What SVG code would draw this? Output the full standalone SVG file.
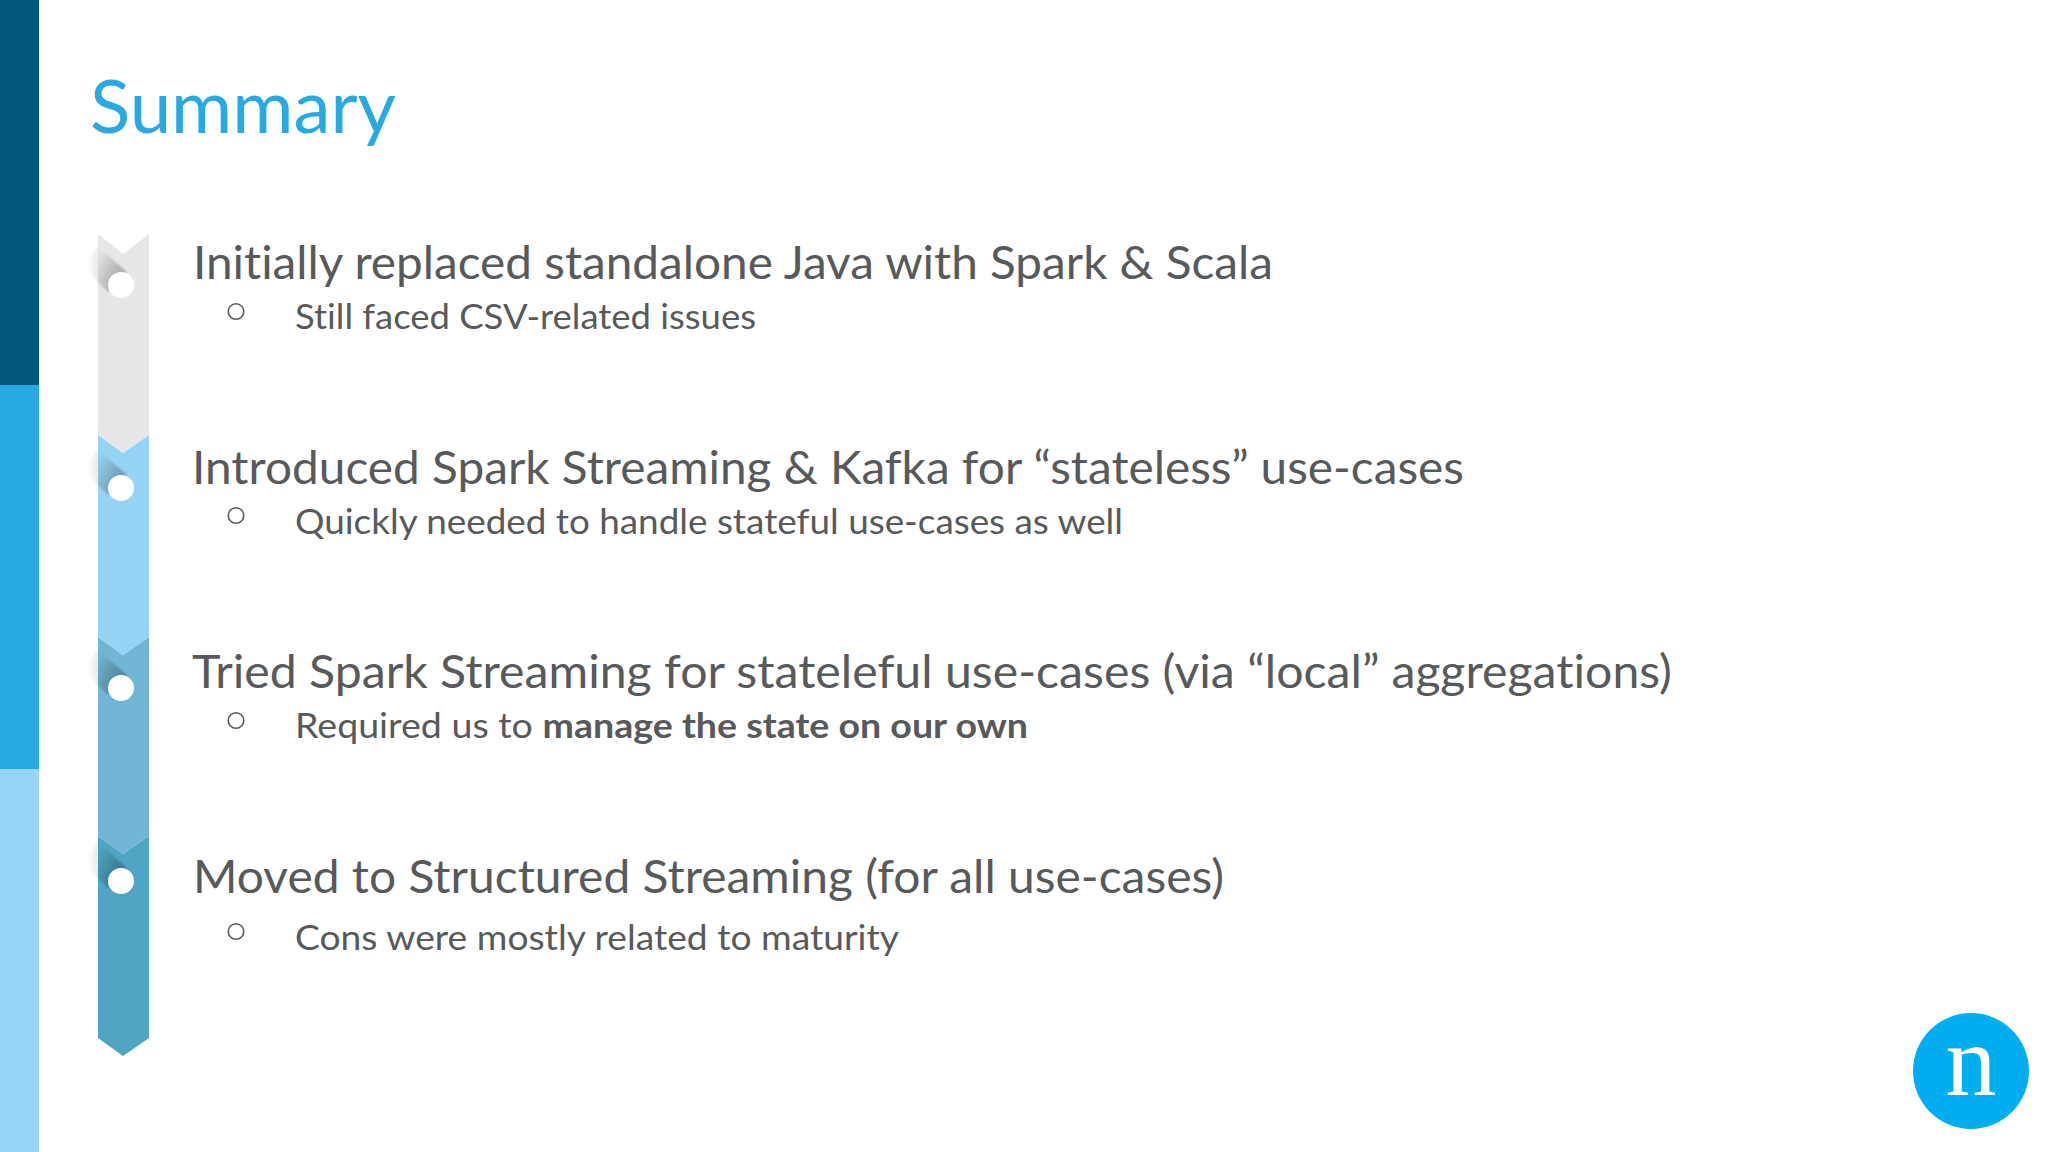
<svg xmlns="http://www.w3.org/2000/svg" width="2048" height="1152" viewBox="0 0 2048 1152">
<style>
text{font-variant-ligatures:none}
.h{font-family:Lato,"Liberation Sans",sans-serif;font-size:45.5px;fill:#58595b}
.s{font-family:Lato,"Liberation Sans",sans-serif;font-size:34.5px;fill:#58595b}
.b{fill:none;stroke:#58595b;stroke-width:1.6}
.d{fill:#fff}
</style>
<defs>
<linearGradient id="sh" x1="0" y1="0.1" x2="0.7" y2="0.6">
<stop offset="0" stop-color="#000" stop-opacity="0"/>
<stop offset="1" stop-color="#000" stop-opacity="0.24"/>
</linearGradient>
<linearGradient id="out" x1="1" y1="0" x2="0" y2="0">
<stop offset="0" stop-color="#000" stop-opacity="0.09"/>
<stop offset="1" stop-color="#000" stop-opacity="0"/>
</linearGradient>
<filter id="soft" x="-30%" y="-30%" width="160%" height="160%"><feGaussianBlur stdDeviation="1"/></filter>
<g id="shadow" filter="url(#soft)">
<polygon points="98,-38 88,-26 88,-13 98,-3" fill="url(#out)"/>
<polygon points="98,-38 127,-13 108,7 98,-3" fill="url(#sh)"/>
</g>
</defs>
<rect width="2048" height="1152" fill="#fff"/>
<g id="sidebar">
<rect x="0" y="0" width="39" height="385" fill="#04587c"/>
<rect x="0" y="385" width="39" height="384" fill="#29a9e1"/>
<rect x="0" y="769" width="39" height="383" fill="#97d4f5"/>
</g>
<text id="title" x="90" y="133" textLength="306" lengthAdjust="spacingAndGlyphs" font-family="Lato,'Liberation Sans',sans-serif" font-size="74" fill="#29a9e1">Summary</text>
<g id="timeline">
<polygon points="98,836 123,854 149,836 149,1038 123,1056 98,1038" fill="#4fa5c3"/>
<polygon points="98,637 123,655 149,637 149,836 123,854 98,836" fill="#71b6d4"/>
<polygon points="98,435 123,453 149,435 149,637 123,655 98,637" fill="#97d3f4"/>
<polygon points="98,234 123,254 149,234 149,435 123,453 98,435" fill="#e6e7e8"/>
</g>
<g id="step1">
<use href="#shadow" transform="translate(0,285)"/>
<circle class="d" cx="121" cy="285" r="13"/>
<text class="h" x="193" y="279" textLength="1080" lengthAdjust="spacingAndGlyphs">Initially replaced standalone Java with Spark &amp; Scala</text>
<circle class="b" cx="236" cy="311.500" r="7.8"/>
<text class="s" x="295" y="329" textLength="461" lengthAdjust="spacingAndGlyphs">Still faced CSV-related issues</text>
</g>
<g id="step2">
<use href="#shadow" transform="translate(0,488)"/>
<circle class="d" cx="121" cy="488" r="13"/>
<text class="h" x="192" y="484" textLength="1272" lengthAdjust="spacingAndGlyphs">Introduced Spark Streaming &amp; Kafka for “stateless” use-cases</text>
<circle class="b" cx="236" cy="515.500" r="7.8"/>
<text class="s" x="295" y="534" textLength="828" lengthAdjust="spacingAndGlyphs">Quickly needed to handle stateful use-cases as well</text>
</g>
<g id="step3">
<use href="#shadow" transform="translate(0,688)"/>
<circle class="d" cx="121" cy="688" r="13"/>
<text class="h" x="192" y="688" textLength="1480" lengthAdjust="spacingAndGlyphs">Tried Spark Streaming for stateleful use-cases (via “local” aggregations)</text>
<circle class="b" cx="236" cy="720.500" r="7.8"/>
<text class="s" x="295" y="738" textLength="733" lengthAdjust="spacingAndGlyphs">Required us to <tspan font-weight="700">manage the state on our own</tspan></text>
</g>
<g id="step4">
<use href="#shadow" transform="translate(0,881)"/>
<circle class="d" cx="121" cy="881" r="13"/>
<text class="h" x="193" y="893" textLength="1031" lengthAdjust="spacingAndGlyphs">Moved to Structured Streaming (for all use-cases)</text>
<circle class="b" cx="236" cy="931.500" r="7.8"/>
<text class="s" x="295" y="950" textLength="604" lengthAdjust="spacingAndGlyphs">Cons were mostly related to maturity</text>
</g>
<g id="logo">
<circle cx="1971" cy="1071" r="58" fill="#00aeef"/>
<text x="1971" y="1095" text-anchor="middle" font-family="'Liberation Serif',serif" font-size="102" fill="#fff">n</text>
</g>
</svg>
